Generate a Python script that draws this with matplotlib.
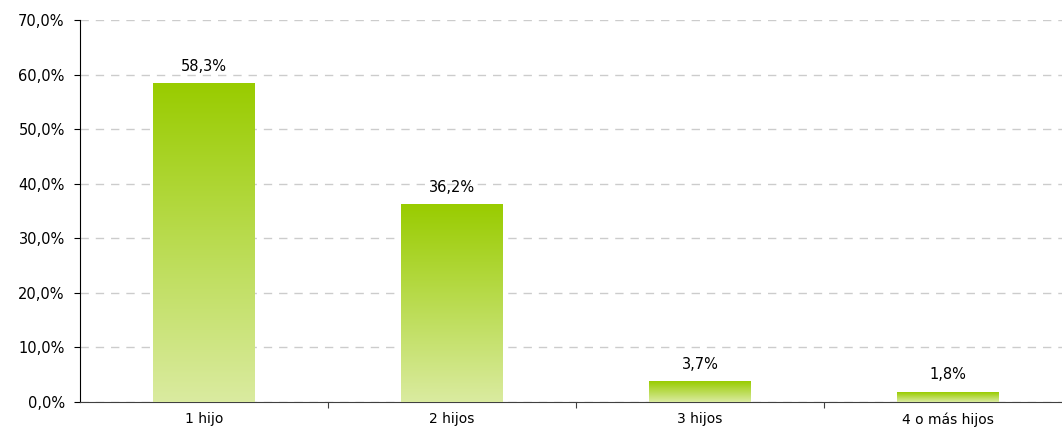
import matplotlib.pyplot as plt
import numpy as np
from matplotlib.colors import LinearSegmentedColormap

plt.rcParams['font.family'] = ['DejaVu Sans']

# datos
categorias = ['1 hijo', '2 hijos', '3 hijos', '4 o más hijos']
porcentajes = [58.3, 36.2, 3.7, 1.8]

fig = plt.figure(figsize=(10.62, 4.29), dpi=100)
# el eje se sale un poco por la derecha, como en el original
ax = fig.add_axes([0.0753, 0.063, 0.9341, 0.8904])
ax.spines['right'].set_visible(False)

x = np.arange(len(categorias))
ancho = 0.41

# degradado verde: claro abajo, intenso arriba
cmap = LinearSegmentedColormap.from_list('verde', ['#DAEBA0', '#99CC00'])
grad = np.linspace(0, 1, 256).reshape(-1, 1)

barras = ax.bar(x, porcentajes, width=ancho, color='none', edgecolor='none', zorder=3)
for b in barras:
    x0, y0 = b.get_x(), b.get_y()
    ax.imshow(grad, cmap=cmap, origin='lower', aspect='auto', zorder=3,
              extent=[x0, x0 + b.get_width(), y0, y0 + b.get_height()])

fs = 10.5
for xi, v in zip(x, porcentajes):
    ax.annotate('{:.1f}%'.format(v).replace('.', ','), (xi, v), xytext=(0, 7),
                textcoords='offset points', ha='center', va='bottom', fontsize=fs)

ax.set_xlim(-0.5, 3.5)
ax.set_ylim(0, 70)
ax.set_yticks(np.arange(0, 71, 10))
ax.set_yticklabels(['{:.1f}%'.format(t).replace('.', ',') for t in np.arange(0, 71, 10)], fontsize=fs)

# ticks del eje x entre categorías, etiquetas centradas
ax.set_xticks([0.5, 1.5, 2.5])
ax.set_xticklabels([])
ax.set_xticks(x, minor=True)
ax.set_xticklabels(categorias, minor=True, fontsize=10)
ax.tick_params(axis='x', which='minor', length=0, pad=7.5)
ax.tick_params(axis='x', which='major', length=4, color='#404040')
ax.tick_params(axis='y', length=4, pad=7)

ax.yaxis.grid(True, linestyle=(0, (6, 5)), color='#CCCCCC', linewidth=1)
ax.set_axisbelow(True)
ax.spines['top'].set_visible(False)
ax.spines['bottom'].set_color('#404040')

fig.savefig('out.png', dpi=100)
